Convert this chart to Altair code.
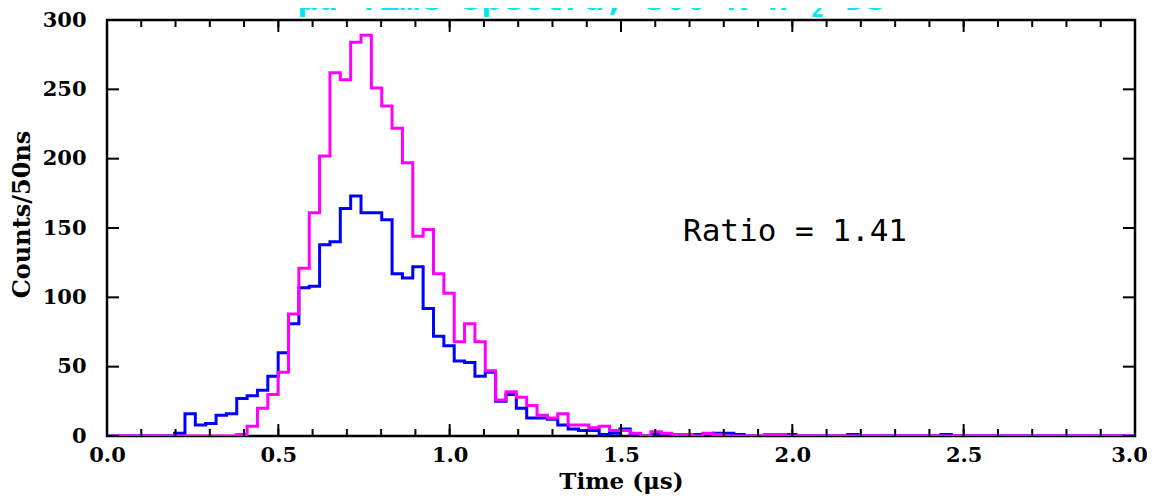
import altair as alt
import pandas as pd
import numpy as np

# histogram binning (μs)
bin_width = 0.03022
first_edge = -0.01422

blue_counts = [0, 0, 0, 0, 0, 0, 0,
               2, 16, 8, 9, 15, 16, 27, 29, 33, 43, 60, 81, 107, 108, 138, 140,
               164, 173, 161, 161, 156, 117, 114, 122, 92, 72, 65, 54, 53, 43,
               46, 25, 30, 20, 13, 13, 12, 8, 5, 4, 4, 1, 2, 5,
               1, 0, 1, 1, 1, 0, 1, 0, 2, 2, 1, 0, 0, 1, 1, 1,
               0, 0, 0, 0, 0, 1, 0, 0, 0, 0, 0, 0, 0, 0, 1,
               0, 0, 0, 0, 0, 0, 0, 0, 0, 0, 0, 0, 0, 0, 0, 0, 0, 0]
magenta_counts = [0, 0, 0, 0, 0, 0, 0, 0, 0, 0, 0, 0, 0,
                  1, 7, 20, 30, 46, 88, 121, 161, 202, 262, 257, 284, 289, 251,
                  238, 222, 197, 144, 149, 117, 103, 68, 81, 68, 47, 26, 32, 28,
                  22, 15, 13, 16, 8, 8, 6, 7, 4, 4, 2,
                  0, 3, 2, 1, 1, 0, 2, 1, 0, 0, 0, 0, 1, 1,
                  0, 0, 0, 0, 0, 0, 0, 0, 0, 0, 0, 0, 0, 0, 0, 0, 0,
                  0, 0, 0, 0, 0, 0, 0, 0, 0, 0, 0, 0, 0, 0, 0, 0, 0]

x_labels = [0.0, 0.5, 1.0, 1.5, 2.0, 2.5, 3.0]
x_minor = [round(0.1 * i, 1) for i in range(31)]
y_labels = [0, 50, 100, 150, 200, 250, 300]

title_main = "μd Time spectra, 300 K H"
title_sub = "2"
title_end = "DS"
ratio_text = "Ratio = 1.41"

W, H = 1028, 416


def series_df(counts, name):
    n = len(counts)
    edges = first_edge + bin_width * np.arange(n + 1)
    vals = list(counts) + [counts[-1]]
    return pd.DataFrame({"t": edges, "c": vals, "s": name})


xs = alt.Scale(domain=[0, 3], nice=False, zero=False)
ys = alt.Scale(domain=[0, 300], nice=False)

x_axis = alt.Axis(values=x_labels, format=".1f", title="Time (μs)", grid=False,
                  ticks=False, tickSize=0, domain=False, labelPadding=8,
                  titlePadding=5, labelFlush=False, titleFontSize=23,
                  labelOffset=alt.ExprRef(expr="datum.value >= 3 ? -6 : 0"))
y_axis = alt.Axis(values=y_labels, format="d", title="Counts/50ns", grid=False,
                  ticks=False, tickSize=0, domain=False, labelPadding=21,
                  titlePadding=8, titleY=194)


def X(field):
    return alt.X(field, scale=xs, axis=x_axis)


def Y(field):
    return alt.Y(field, scale=ys, axis=y_axis)


blue = alt.Chart(series_df(blue_counts, "b")).mark_line(
    interpolate="step-after", color="#0000ff", strokeWidth=3, clip=True
).encode(x=X("t:Q"), y=Y("c:Q"))

magenta = alt.Chart(series_df(magenta_counts, "m")).mark_line(
    interpolate="step-after", color="#ff00ff", strokeWidth=3, clip=True
).encode(x=X("t:Q"), y=Y("c:Q"))

xmaj = pd.DataFrame({"t": x_labels})
xmin = pd.DataFrame({"t": x_minor})
ymaj = pd.DataFrame({"c": y_labels})


def xticks(df, y0, y1):
    return alt.Chart(df).mark_rule(color="black", strokeWidth=2).encode(
        x=X("t:Q"), y=alt.value(y0), y2=alt.value(y1))


def yticks(df, x0, x1):
    return alt.Chart(df).mark_rule(color="black", strokeWidth=2).encode(
        y=Y("c:Q"), x=alt.value(x0), x2=alt.value(x1))


ticks = [
    xticks(xmaj, H, H - 12), xticks(xmin, H, H - 7),
    xticks(xmaj, 0, 12), xticks(xmin, 0, 7),
    yticks(ymaj, 0, 12), yticks(ymaj, W, W - 12),
]

ratio = alt.Chart(pd.DataFrame({"txt": [ratio_text]})).mark_text(
    font="DejaVu Sans Mono", fontSize=31, color="black", align="left", baseline="middle"
).encode(text="txt:N", x=alt.value(576), y=alt.value(212))


def title_piece(txt, x, y, size):
    return alt.Chart(pd.DataFrame({"txt": [txt]})).mark_text(
        font="DejaVu Sans Mono", fontSize=size, fontWeight="bold", color="#00e8f0",
        align="left", baseline="alphabetic"
    ).encode(text="txt:N", x=alt.value(x), y=alt.value(y))


titles = [
    title_piece(title_main, 190, -10, 34),
    title_piece(title_sub, 704, -3, 22),
    title_piece(title_end, 738, -10, 34),
]

chart = alt.layer(blue, magenta, *ticks, ratio, *titles).properties(
    width=W, height=H,
    autosize=alt.AutoSizeParams(type="none"),
    padding={"left": 99, "top": 12, "right": 12, "bottom": 58},
).configure_view(stroke="black", strokeWidth=2.5).configure_axis(
    labelFont="DejaVu Serif", labelFontWeight="bold", labelFontSize=21,
    labelColor="black", titleFont="DejaVu Serif", titleFontWeight="bold",
    titleFontSize=24, titleColor="black"
)

chart.save("out.html", embed_options={"renderer": "svg", "actions": False})
